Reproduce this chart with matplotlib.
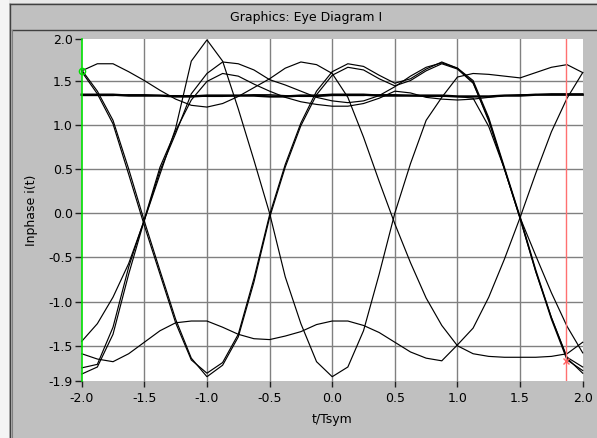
import matplotlib
matplotlib.use("Agg")
import matplotlib.pyplot as plt
from matplotlib.patches import Rectangle
from matplotlib.lines import Line2D

# ---------------- data ----------------
t_sym = [-2.0, -1.875, -1.75, -1.625, -1.5, -1.375, -1.25, -1.125,
         -1.0, -0.875, -0.75, -0.625, -0.5, -0.375, -0.25, -0.125,
         0.0, 0.125, 0.25, 0.375, 0.5, 0.625, 0.75, 0.875,
         1.0, 1.125, 1.25, 1.375, 1.5, 1.625, 1.75, 1.875, 2.0]

trace_a = [1.34, 1.34, 1.34, 1.33, 1.33, 1.33, 1.32, 1.32, 1.33, 1.33, 1.33,
           1.33, 1.32, 1.32, 1.33, 1.33, 1.34, 1.34, 1.34, 1.33, 1.33, 1.33,
           1.33, 1.33, 1.32, 1.32, 1.32, 1.33, 1.33, 1.34, 1.34, 1.34, 1.34]
trace_k = [1.33, 1.33, 1.33, 1.34, 1.34, 1.33, 1.33, 1.33, 1.32, 1.32, 1.33,
           1.34, 1.34, 1.33, 1.32, 1.32, 1.33, 1.33, 1.33, 1.34, 1.34, 1.33,
           1.32, 1.32, 1.32, 1.30, 0.98, 0.50, -0.05, -0.48, -0.90, -1.28, -1.58]
trace_b1 = [1.60, 1.35, 1.01, 0.44, -0.14, -0.69, -1.24, -1.66, -1.81, -1.69,
            -1.37, -0.74, -0.02, 0.55, 1.02, 1.38, 1.60, 1.69, 1.66, 1.56, 1.47,
            1.52, 1.63, 1.71, 1.64, 1.50, 1.08, 0.52, -0.04, -0.64, -1.18, -1.63, -1.74]
trace_b2 = [1.62, 1.38, 1.05, 0.50, -0.09, -0.65, -1.20, -1.64, -1.85, -1.72,
            -1.40, -0.78, -0.05, 0.52, 0.99, 1.34, 1.56, 1.65, 1.62, 1.52, 1.44,
            1.50, 1.61, 1.69, 1.63, 1.47, 1.06, 0.50, -0.06, -0.66, -1.20, -1.66, -1.78]
trace_c = [-1.45, -1.25, -0.95, -0.57, -0.08, 0.44, 0.96, 1.72, 1.96, 1.72,
           1.18, 0.60, 0.00, -0.72, -1.25, -1.68, -1.85, -1.74, -1.33, -0.69,
           0.00, 0.56, 1.05, 1.31, 1.54, 1.58, 1.57, 1.55, 1.53, 1.59, 1.65, 1.68, 1.59]
trace_d = [-1.82, -1.74, -1.37, -0.69, -0.08, 0.48, 0.90, 1.35, 1.58, 1.71,
           1.69, 1.62, 1.51, 1.45, 1.38, 1.31, 1.27, 1.25, 1.27, 1.33, 1.43,
           1.55, 1.65, 1.70, 1.64, 1.48, 1.04, 0.50, -0.06, -0.66, -1.18, -1.64, -1.81]
trace_e = [-1.75, -1.71, -1.29, -0.61, -0.07, 0.52, 0.93, 1.28, 1.49, 1.58,
           1.55, 1.46, 1.38, 1.31, 1.26, 1.23, 1.21, 1.21, 1.24, 1.30, 1.38,
           1.36, 1.31, 1.29, 1.28, 1.29, 1.31, 1.33, 1.34, 1.34, 1.35, 1.35, 1.35]
trace_f = [1.61, 1.69, 1.69, 1.60, 1.50, 1.39, 1.29, 1.22, 1.20, 1.24, 1.32,
           1.42, 1.52, 1.64, 1.71, 1.68, 1.58, 1.31, 0.86, 0.36, -0.12, -0.56,
           -0.96, -1.27, -1.50, -1.59, -1.62, -1.63, -1.63, -1.63, -1.62, -1.59, -1.46]
trace_g = [-1.59, -1.65, -1.68, -1.59, -1.46, -1.33, -1.24, -1.22, -1.22, -1.29,
           -1.37, -1.42, -1.43, -1.39, -1.34, -1.26, -1.22, -1.22, -1.27, -1.35,
           -1.46, -1.57, -1.64, -1.67, -1.49, -1.30, -0.95, -0.52, -0.05, 0.45,
           0.92, 1.30, 1.59]

thin_traces = [trace_k, trace_b1, trace_b2, trace_c, trace_d, trace_e, trace_f, trace_g]

x_ticks = [-2.0, -1.5, -1.0, -0.5, 0.0, 0.5, 1.0, 1.5, 2.0]
x_tick_labels = ["-2.0", "-1.5", "-1.0", "-0.5", "0.0", "0.5", "1.0", "1.5", "2.0"]
y_min, y_max = -1.895, 1.97
y_ticks = [y_min, -1.5, -1.0, -0.5, 0.0, 0.5, 1.0, 1.5, y_max]
y_tick_labels = [f"{v:.1f}" for v in y_ticks]
grid_x = [-1.5, -1.0, -0.5, 0.0, 0.5, 1.0, 1.5]
grid_y = [-1.5, -1.0, -0.5, 0.0, 0.5, 1.0, 1.5]

cursor_green_x, cursor_green_y = -2.0, 1.61
cursor_red_x, cursor_red_y = 1.87, -1.67

title = "Graphics: Eye Diagram I"
x_label = "t/Tsym"
y_label = "Inphase i(t)"

# ---------------- figure ----------------
W, H = 597, 438
fig = plt.figure(figsize=(W / 100, H / 100), dpi=100)
fig.patch.set_facecolor("#c0c0c0")
FONT = "DejaVu Sans"


def fx(px):
    return px / W


def fy(py):
    return 1 - py / H


def frect(x0, y0, x1, y1, color, z=0):
    fig.add_artist(Rectangle((fx(x0), fy(y1)), fx(x1) - fx(x0), fy(y0) - fy(y1),
                             transform=fig.transFigure, facecolor=color,
                             edgecolor="none", zorder=z))


def fline(x0, y0, x1, y1, color, lw=1.0):
    fig.add_artist(Line2D([fx(x0), fx(x1)], [fy(y0), fy(y1)],
                          transform=fig.transFigure, color=color, lw=lw))


# window frame
frect(0, 0, W, 3, "#e8e8e8")
frect(0, 0, 9, H, "#f4f4f4")
fline(10, 4, W, 4, "#404040", 1.0)
fline(10, 4, 10, H, "#404040", 1.0)
fline(12, 30, W, 30, "#404040", 1.0)
fline(12, 30, 12, H, "#808080", 0.8)

fig.text(fx(306), fy(17), title, ha="center", va="center",
         fontsize=9, family=FONT, color="#000000")

# axes placement (pixel geometry of reference)
left, right, top, bottom = 81.7, 582.7, 39.0, 380.7
ax = fig.add_axes([fx(left), fy(bottom), fx(right) - fx(left), fy(top) - fy(bottom)])
ax.set_facecolor("white")
ax.set_xlim(-2.0, 2.0)
ax.set_ylim(y_min, y_max)
for s in ax.spines.values():
    s.set_visible(False)

for gx in grid_x:
    ax.axvline(gx, color="#808080", lw=1.0, zorder=1)
for gy in grid_y:
    ax.axhline(gy, color="#808080", lw=1.0, zorder=1)

for tr in thin_traces:
    ax.plot(t_sym, tr, color="black", lw=0.85, zorder=3, clip_on=False,
            solid_joinstyle="miter")
ax.plot(t_sym, trace_a, color="black", lw=1.7, zorder=3, clip_on=False)

# cursors
ax.axvline(cursor_green_x, color="#00e000", lw=1.2, zorder=4, clip_on=False)
ax.plot([cursor_green_x], [cursor_green_y], marker="o", ms=4.5, mfc="none",
        mec="#00e000", mew=1.0, zorder=5, clip_on=False)
ax.axvline(cursor_red_x, color="#ff7070", lw=1.0, zorder=4)
ax.plot([cursor_red_x], [cursor_red_y], marker="x", ms=4, color="#ff6060",
        mew=1.0, zorder=5)

ax.set_xticks(x_ticks)
ax.set_xticklabels(x_tick_labels)
ax.set_yticks(y_ticks)
ax.set_yticklabels(y_tick_labels)
ax.tick_params(axis="both", direction="out", color="#202020", width=1.0,
               labelsize=9, labelcolor="black")
ax.tick_params(axis="y", length=5, pad=1.5)
ax.tick_params(axis="x", length=4, pad=4)
for lab in ax.get_xticklabels() + ax.get_yticklabels():
    lab.set_family(FONT)

fig.text(fx(32), fy(210), y_label, rotation=90, ha="center", va="center",
         fontsize=9, family=FONT)
fig.text(fx(332), fy(420), x_label, ha="center", va="center",
         fontsize=9, family=FONT)

fig.savefig("out.png", dpi=100, facecolor=fig.get_facecolor())
